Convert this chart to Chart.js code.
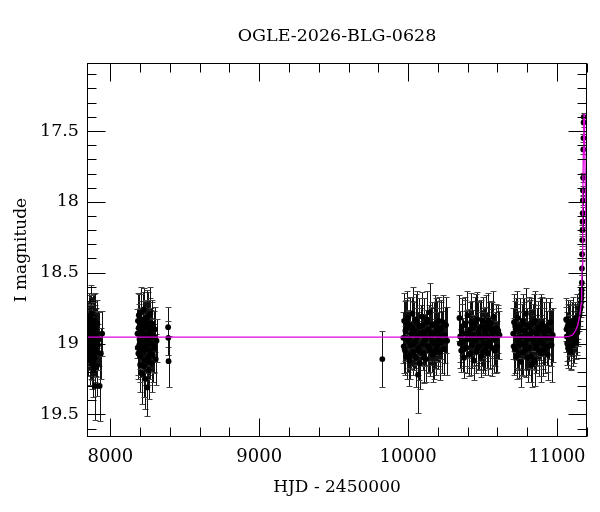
<!DOCTYPE html>
<html><head><meta charset="utf-8">
<script src="https://cdn.jsdelivr.net/npm/chart.js@4"></script>
<style>html,body{margin:0;padding:0;background:#fff}</style>
</head><body>
<canvas id="c" width="600" height="512"></canvas>
<script>
const chartTitle = 'OGLE-2026-BLG-0628';
const xTitle = 'HJD - 2450000';
const yTitle = 'I magnitude';
const xTickValues = [8000, 9000, 10000, 11000];
const yTickValues = [17.5, 18, 18.5, 19, 19.5];
const xRange = [7843, 11202];
const yRange = [17.02, 19.66];

// Observations (HJD - 2450000, I mag, error)
const obsHJD = [
  7848,7851,7853,7856,7858,7860,7862,7864,7866,7868,7870,7872,7874,7876,7878,7880,7882,7884,7886,7888,7890,7892,7894,7896,7898,7900,7902,7904,7908,7912,7917,7922,7928,7936,7945,
  7849,7854,7857,7861,7865,7869,7873,7877,7881,7885,7889,7893,7897,7903,7914,
  8182,8185,8188,8191,8194,8197,8200,8203,8206,8209,8212,8215,8218,8221,8224,8227,8230,8233,8236,8239,8242,8245,8248,8251,8254,8257,8260,8263,8266,8269,8272,8275,8278,8282,8286,8290,8295,8300,8305,8310,
  8184,8190,8196,8202,8208,8214,8220,8226,8232,8238,8244,8250,8256,8262,8268,8274,8280,8292,
  8388,8389,8391,
  9827,
  9968,9974,9979,9985,9991,9996,10002,10008,10013,10019,10025,10030,10036,10042,10047,10053,10059,10064,10067,10070,10076,10081,10087,10093,10098,10104,10110,10115,10121,10127,10132,10138,10144,10149,10155,10161,10166,10172,10178,10183,10189,10195,10200,10206,10212,10218,10225,10233,10245,10262,
  9971,9982,9994,10005,10016,10027,10039,10050,10061,10073,10084,10096,10107,10118,10130,10141,10152,10164,10175,10186,10198,10209,10221,10240,10255,
  10345,10350,10357,10362,10369,10376,10381,10388,10393,10399,10406,10411,10418,10423,10429,10436,10441,10447,10454,10459,10465,10472,10477,10483,10490,10495,10501,10508,10513,10519,10526,10531,10537,10544,10549,10555,10562,10567,10573,10580,10585,10592,10599,10606,10614,
  10348,10360,10372,10384,10396,10408,10420,10432,10444,10456,10468,10480,10492,10504,10516,10528,10540,10552,10564,10576,10588,10603,
  10706,10712,10717,10723,10729,10735,10740,10746,10752,10758,10763,10769,10775,10781,10786,10792,10798,10804,10809,10815,10821,10827,10832,10838,10844,10850,10855,10861,10867,10873,10878,10884,10890,10896,10901,10907,10913,10919,10925,10932,10939,10947,10955,10964,10972,
  10709,10720,10732,10743,10755,10766,10778,10789,10801,10812,10824,10835,10847,10858,10870,10881,10893,10904,10916,10928,10943,10960,
  11062,11066,11071,11075,11080,11084,11089,11093,11098,11102,11107,11111,11116,11120,11125,11129,11134,11138,11143,11147,11152,11156,
  11064,11069,11077,11087,11095,11105,11114,11123,11132,11141,
  11160,11162,11164,11165,11166,11167,11168,11169,11170,11171,11172,11173,11174,11175,11176,11177,11178,11179,11180
];
const obsMag = [
  18.98,18.90,19.08,18.85,19.02,18.94,19.12,18.82,19.00,18.92,19.06,18.79,18.96,19.14,18.88,19.04,18.84,18.99,19.18,18.91,19.05,18.87,19.10,18.95,19.30,18.89,19.03,18.93,19.16,18.86,19.01,18.97,19.30,19.07,18.93,
  19.05,18.96,18.89,19.10,18.93,19.02,18.86,19.08,18.95,19.13,18.90,19.00,18.84,19.06,18.98,
  18.93,18.84,19.07,18.80,19.01,18.91,19.15,18.78,19.04,18.87,18.97,19.21,18.83,19.06,18.76,18.99,19.12,18.89,19.25,18.85,19.02,18.94,19.31,18.81,19.10,18.96,19.19,18.86,19.05,18.79,19.00,18.92,19.14,18.88,19.08,18.95,19.03,18.90,19.11,18.98,
  19.03,18.89,18.97,19.09,18.85,19.01,18.93,19.16,18.88,19.04,18.82,18.98,19.13,18.90,19.07,18.95,18.86,19.02,
  18.885,18.96,19.125,
  19.11,
  18.96,18.84,19.05,18.90,19.09,18.82,18.98,19.12,18.87,19.01,18.93,18.79,19.06,18.91,18.99,19.10,18.85,18.95,19.22,19.03,18.88,19.14,18.94,18.81,19.00,19.07,18.92,18.97,19.11,18.83,19.02,18.90,18.78,19.05,18.95,18.87,19.08,18.93,19.00,18.86,19.04,18.91,18.97,18.84,19.06,18.89,18.99,18.85,18.94,18.98,
  19.02,18.91,18.86,18.97,19.08,18.89,19.00,18.83,18.95,19.05,18.92,18.87,19.10,18.96,18.85,19.03,18.93,18.99,19.07,18.88,19.01,18.94,18.90,19.04,18.87,
  18.82,18.95,19.05,18.88,18.99,19.10,18.86,18.93,19.03,18.80,18.97,19.08,18.90,18.85,19.01,18.94,19.12,18.87,18.98,19.06,18.83,18.92,19.02,18.89,19.09,18.96,18.84,19.00,18.91,19.04,18.87,18.95,19.07,18.90,18.99,18.86,19.03,18.93,18.81,19.05,18.97,18.89,19.02,18.91,18.94,
  19.00,18.91,19.04,18.87,18.96,18.93,19.07,18.89,18.98,18.85,19.03,18.95,18.88,19.06,18.92,19.00,18.84,19.02,18.90,18.97,19.04,18.92,
  18.93,18.85,19.04,18.90,19.09,18.82,18.98,19.01,18.88,19.13,18.95,18.84,19.06,18.91,19.00,18.79,18.97,19.10,18.87,19.03,18.93,18.86,19.15,18.92,18.99,19.12,18.84,19.02,18.95,18.89,19.05,18.90,18.97,19.07,18.86,19.00,18.92,19.04,18.88,18.96,19.08,18.91,18.85,19.01,18.94,
  19.02,18.88,18.96,19.07,18.91,19.00,18.86,19.04,18.94,18.89,19.09,18.97,18.85,19.03,18.92,18.99,18.87,19.05,18.95,18.90,19.02,18.96,
  18.83,18.95,18.88,19.03,18.91,18.97,18.86,19.06,18.93,18.89,19.01,18.84,18.96,18.90,18.87,18.98,18.82,18.92,18.85,18.81,18.79,18.76,
  18.90,19.00,18.86,18.94,19.02,18.88,18.97,18.85,18.93,18.89,
  18.74,18.71,18.68,18.65,18.62,18.57,18.47,18.37,18.27,18.20,18.14,18.08,17.99,17.92,17.83,17.63,17.55,17.44,17.40
];
const obsErr = [
  0.16,0.19,0.15,0.21,0.17,0.2,0.18,0.16,0.22,0.15,0.19,0.2,0.17,0.18,0.21,0.16,0.19,0.17,0.2,0.15,0.18,0.22,0.17,0.19,0.24,0.16,0.2,0.18,0.21,0.17,0.15,0.19,0.25,0.18,0.16,
  0.18,0.2,0.16,0.19,0.21,0.17,0.2,0.18,0.22,0.16,0.19,0.17,0.2,0.18,0.21,
  0.17,0.2,0.18,0.15,0.21,0.16,0.19,0.18,0.2,0.17,0.16,0.22,0.19,0.18,0.15,0.2,0.17,0.19,0.21,0.16,0.18,0.2,0.2,0.17,0.19,0.16,0.2,0.18,0.17,0.19,0.18,0.16,0.2,0.17,0.19,0.18,0.17,0.16,0.18,0.15,
  0.19,0.17,0.21,0.18,0.2,0.16,0.19,0.22,0.18,0.17,0.2,0.19,0.16,0.21,0.18,0.2,0.17,0.19,
  0.14,0.12,0.18,
  0.2,
  0.18,0.2,0.17,0.21,0.16,0.19,0.22,0.18,0.2,0.17,0.23,0.19,0.16,0.2,0.18,0.21,0.22,0.17,0.27,0.19,0.2,0.18,0.21,0.17,0.19,0.2,0.24,0.18,0.16,0.2,0.19,0.17,0.21,0.18,0.2,0.16,0.19,0.22,0.17,0.2,0.18,0.21,0.19,0.17,0.2,0.18,0.22,0.19,0.2,0.24,
  0.19,0.21,0.18,0.2,0.17,0.22,0.19,0.18,0.2,0.21,0.17,0.19,0.18,0.2,0.22,0.17,0.19,0.21,0.18,0.2,0.17,0.19,0.21,0.18,0.2,
  0.16,0.18,0.15,0.2,0.17,0.14,0.19,0.16,0.18,0.17,0.2,0.15,0.19,0.21,0.16,0.18,0.14,0.2,0.17,0.15,0.19,0.22,0.16,0.18,0.15,0.2,0.17,0.19,0.16,0.18,0.21,0.17,0.15,0.19,0.18,0.16,0.2,0.17,0.18,0.16,0.19,0.17,0.18,0.16,0.17,
  0.17,0.19,0.16,0.18,0.2,0.17,0.15,0.19,0.18,0.2,0.16,0.17,0.19,0.15,0.18,0.17,0.2,0.16,0.19,0.18,0.17,0.19,
  0.18,0.2,0.17,0.22,0.16,0.19,0.21,0.17,0.2,0.18,0.23,0.19,0.17,0.2,0.18,0.18,0.22,0.17,0.2,0.19,0.24,0.18,0.16,0.2,0.19,0.18,0.21,0.17,0.2,0.19,0.18,0.22,0.17,0.2,0.19,0.18,0.21,0.17,0.2,0.19,0.18,0.2,0.17,0.26,0.19,
  0.2,0.18,0.21,0.17,0.19,0.22,0.18,0.2,0.17,0.19,0.18,0.21,0.2,0.18,0.19,0.17,0.22,0.18,0.2,0.19,0.18,0.2,
  0.15,0.17,0.16,0.14,0.18,0.15,0.17,0.13,0.16,0.18,0.15,0.17,0.14,0.16,0.15,0.13,0.17,0.14,0.12,0.1,0.09,0.08,
  0.16,0.15,0.17,0.14,0.16,0.15,0.17,0.14,0.15,0.13,
  0.07,0.07,0.06,0.06,0.05,0.05,0.05,0.04,0.04,0.04,0.04,0.04,0.03,0.03,0.03,0.03,0.03,0.03,0.03
];

// Microlensing model curve
const modelHJD = [7843,11040,11080,11105,11125,11140,11150,11157,11162,11166,11169,11172,11175,11178,11180,11182,11184,11187,11191,11196,11202];
const modelMag = [18.955,18.955,18.95,18.94,18.91,18.87,18.82,18.77,18.72,18.62,18.45,18.20,17.95,17.62,17.45,17.38,17.40,17.55,17.90,18.30,18.64];

const FONT = 'DejaVu Serif';
const modelColor = 'rgb(225,0,225)';

const errorBarPlugin = {
  id: 'errbars',
  beforeDatasetsDraw(chart) {
    const {ctx, chartArea, scales: {x, y}} = chart;
    ctx.save();
    ctx.beginPath();
    ctx.rect(chartArea.left, chartArea.top, chartArea.right - chartArea.left, chartArea.bottom - chartArea.top);
    ctx.clip();
    ctx.lineWidth = 1;
    for (let i = 0; i < obsHJD.length; i++) {
      const px = Math.round(x.getPixelForValue(obsHJD[i])) + 0.5;
      const y1 = Math.round(y.getPixelForValue(obsMag[i] - obsErr[i])) + 0.5;
      const y2 = Math.round(y.getPixelForValue(obsMag[i] + obsErr[i])) + 0.5;
      ctx.strokeStyle = '#111';
      ctx.beginPath(); ctx.moveTo(px, y1); ctx.lineTo(px, y2); ctx.stroke();
      ctx.strokeStyle = '#444';
      ctx.beginPath();
      ctx.moveTo(px - 3, y1); ctx.lineTo(px + 3, y1);
      ctx.moveTo(px - 3, y2); ctx.lineTo(px + 3, y2);
      ctx.stroke();
    }
    ctx.restore();
  }
};

const framePlugin = {
  id: 'frame',
  afterDraw(chart) {
    const {ctx, chartArea: {left, right, top, bottom}, scales: {x, y}} = chart;
    const L = Math.round(left) + 0.5, R = Math.round(right) - 0.5, T = Math.round(top) + 0.5, B = Math.round(bottom) - 0.5;
    ctx.save();
    ctx.strokeStyle = '#000';
    ctx.lineWidth = 1;
    ctx.strokeRect(L, T, R - L, B - T);
    const majorLen = 18, minorLen = 9;
    ctx.beginPath();
    for (let v = Math.ceil(x.min / 200) * 200; v <= x.max; v += 200) {
      const p = Math.round(x.getPixelForValue(v)) + 0.5;
      const len = (v % 1000 === 0) ? majorLen : minorLen;
      ctx.moveTo(p, B); ctx.lineTo(p, B - len);
      ctx.moveTo(p, T); ctx.lineTo(p, T + len);
    }
    for (let k = Math.ceil(y.min * 10); k <= Math.floor(y.max * 10); k++) {
      const p = Math.round(y.getPixelForValue(k / 10)) + 0.5;
      const len = (k % 5 === 0) ? majorLen : minorLen;
      ctx.moveTo(L, p); ctx.lineTo(L + len, p);
      ctx.moveTo(R, p); ctx.lineTo(R - len, p);
    }
    ctx.stroke();
    ctx.restore();
  }
};

new Chart(document.getElementById('c'), {
  data: {
    datasets: [
      {
        type: 'line',
        label: 'model',
        data: modelHJD.map((h, i) => ({x: h, y: modelMag[i]})),
        borderColor: modelColor,
        borderWidth: 1.3,
        pointRadius: 0,
        fill: false,
        tension: 0,
        order: 0
      },
      {
        type: 'scatter',
        label: 'OGLE',
        data: obsHJD.map((h, i) => ({x: h, y: obsMag[i]})),
        backgroundColor: '#000',
        borderWidth: 0,
        pointRadius: 2.9,
        order: 1
      }
    ]
  },
  options: {
    responsive: false,
    animation: false,
    devicePixelRatio: 1,
    layout: {padding: {top: 0, right: 13, bottom: 0, left: 0}},
    plugins: {
      legend: {display: false},
      tooltip: {enabled: false},
      title: {
        display: true,
        text: chartTitle,
        fullSize: false,
        color: '#000',
        font: {family: FONT, size: 17.5, weight: 'normal'},
        padding: {top: 26, bottom: 16}
      }
    },
    scales: {
      x: {
        type: 'linear',
        min: xRange[0],
        max: xRange[1],
        afterFit: s => { s.height = 75; },
        afterBuildTicks: s => { s.ticks = xTickValues.map(v => ({value: v})); },
        grid: {display: false, drawTicks: false},
        border: {display: false},
        ticks: {
          color: '#000',
          font: {family: FONT, size: 18},
          padding: 10,
          maxRotation: 0,
          autoSkip: false,
          callback: v => String(v)
        },
        title: {display: true, text: xTitle, color: '#000', font: {family: FONT, size: 17}, padding: {top: 0, bottom: 14}}
      },
      y: {
        type: 'linear',
        reverse: true,
        min: yRange[0],
        max: yRange[1],
        afterFit: s => { s.width = 87; },
        afterBuildTicks: s => { s.ticks = yTickValues.map(v => ({value: v})); },
        grid: {display: false, drawTicks: false},
        border: {display: false},
        ticks: {
          color: '#000',
          font: {family: FONT, size: 17.5},
          padding: 8,
          autoSkip: false,
          callback: v => String(v)
        },
        title: {display: true, text: yTitle, color: '#000', font: {family: FONT, size: 17}, padding: {top: 11, bottom: 0}}
      }
    }
  },
  plugins: [errorBarPlugin, framePlugin]
});
</script>
</body></html>
